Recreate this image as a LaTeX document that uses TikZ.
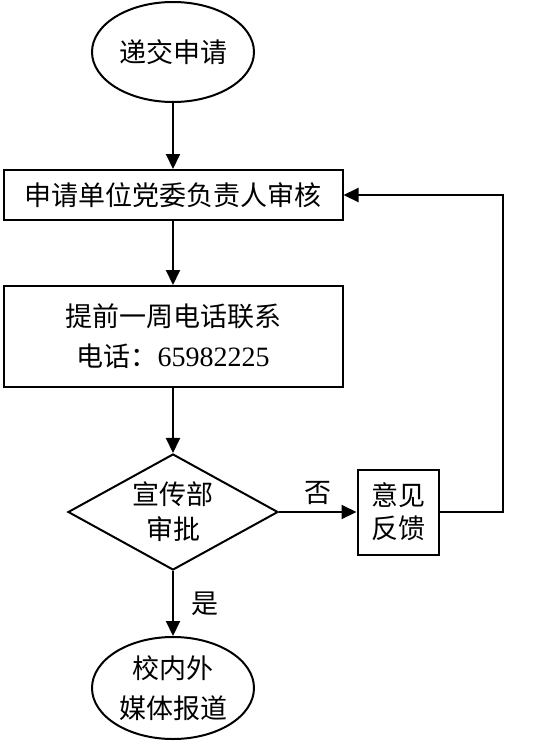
\documentclass[tikz,border=0pt]{standalone}
\usepackage{fontspec}
\setmainfont{Liberation Serif}
\newfontfamily\cjk{Noto Sans CJK SC}
\usetikzlibrary{arrows.meta,positioning,shapes.geometric}

\begin{document}
\begin{tikzpicture}[x=1pt,y=-1pt,
    every node/.style={font=\fontsize{27}{40}\selectfont\cjk},
    boxnode/.style={draw,line width=2pt,rectangle,inner sep=0pt},
    ovalnode/.style={draw,line width=2pt,ellipse,inner sep=0pt},
    decide/.style={draw,line width=2pt,diamond,aspect=1.8,inner sep=0pt},
    flow/.style={line width=2pt,-{Triangle[length=15pt,width=14pt]}}]
      \useasboundingbox (0,0) rectangle (541,741);
      % nodes
      \node[ovalnode,minimum width=162pt,minimum height=100pt] (start) at (173,52) {递交申请};
      \node[boxnode,minimum width=339pt,minimum height=50pt] (audit) at (173,195) {申请单位党委负责人审核};
      \node[boxnode,minimum width=339pt,minimum height=101pt,align=center] (call) at (173,336.5)
        {提前一周电话联系\\电话：{\rmfamily\fontsize{28}{40}\selectfont 65982225}};
      \node[decide,minimum width=210pt,minimum height=116pt,align=center,
            font=\fontsize{27}{35}\selectfont\cjk] (approve) at (173,512) {宣传部\\审批};
      \node[boxnode,minimum width=81pt,minimum height=85pt,align=center,
            font=\fontsize{27}{33}\selectfont\cjk] (feedback) at (398,512) {意见\\反馈};
      \node[ovalnode,minimum width=162pt,minimum height=102pt,align=center] (finish) at (173,688) {校内外\\媒体报道};
      \coordinate (back) at (503,195);
      % connectors
      \draw[flow] (start) -- (audit);
      \draw[flow] (audit) -- (call);
      \draw[flow] (call) -- (approve);
      \draw[flow] (approve) -- node[above=3pt] (no) {否} (feedback);
      \draw[flow] (approve) -- node[right=14pt] (yes) {是} (finish);
      \draw[flow] (feedback.east) -| (back) -- (audit.east);
    \end{tikzpicture}
\end{document}
